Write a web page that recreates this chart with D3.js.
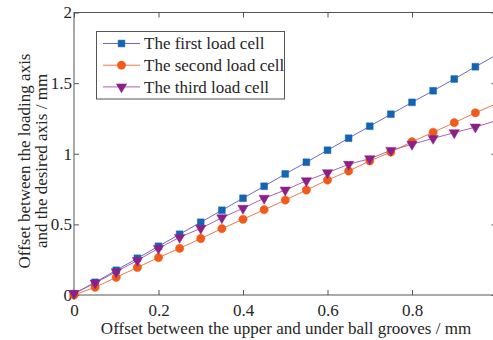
<!DOCTYPE html>
<html><head><meta charset="utf-8">
<script src="https://cdn.jsdelivr.net/npm/d3@7"></script>
<style>body{margin:0;background:#fff}svg{display:block}text{font-family:"Liberation Serif","Times New Roman",serif;fill:#262626}</style>
</head><body><svg id="c" width="493" height="340"></svg>
<script>
const xs = [0,0.05,0.1,0.15,0.2,0.25,0.3,0.35,0.4,0.45,0.5,0.55,0.6,0.65,0.7,0.75,0.8,0.85,0.9,0.95,1.0];
const first = [0.01,0.09,0.175,0.26,0.345,0.43,0.515,0.60,0.685,0.77,0.857,0.94,1.025,1.11,1.195,1.28,1.364,1.446,1.529,1.616,1.70];
const second = [0.0,0.055,0.125,0.195,0.265,0.33,0.40,0.47,0.536,0.604,0.672,0.743,0.814,0.878,0.949,1.012,1.085,1.152,1.22,1.29,1.355];
const third = [0.01,0.085,0.165,0.245,0.33,0.408,0.472,0.547,0.614,0.685,0.743,0.809,0.866,0.925,0.965,1.024,1.067,1.109,1.149,1.189,1.235];
const xTicks = [0,0.2,0.4,0.6,0.8];
const yTicks = [0,0.5,1,1.5,2];
const seriesNames = ["The first load cell","The second load cell","The third load cell"];

const FS = "17px";
const svg = d3.select("#c");
const x = d3.scaleLinear().domain([0,1]).range([74,496.5]);
const y = d3.scaleLinear().domain([0,2]).range([295,12.5]);
const series = [
  {name:seriesNames[0], vals:first, line:"#6a6ac4", fill:"#1464b4", sym:d3.symbolSquare, size:46, rot:0},
  {name:seriesNames[1], vals:second, line:"#f07a4a", fill:"#f05a1a", sym:d3.symbolCircle, size:54, rot:0},
  {name:seriesNames[2], vals:third, line:"#b060b0", fill:"#8a2088", sym:d3.symbolTriangle, size:46, rot:180}
];

const axCol = "#555";
svg.append("rect").attr("x",x(0)).attr("y",y(2)).attr("width",x(1)-x(0)).attr("height",y(0)-y(2))
  .attr("fill","none").attr("stroke",axCol).attr("stroke-width",1);

const gx = svg.append("g").attr("transform",`translate(0,${y(0)})`)
  .call(d3.axisBottom(x).tickValues(xTicks).tickSize(-5).tickPadding(9).tickFormat(d3.format("")));
const gxt = svg.append("g").attr("transform",`translate(0,${y(2)})`)
  .call(d3.axisTop(x).tickValues(xTicks).tickSize(-5).tickFormat(""));
const gy = svg.append("g").attr("transform",`translate(${x(0)},0)`)
  .call(d3.axisLeft(y).tickValues(yTicks).tickSize(-5).tickPadding(4).tickFormat(d3.format("")));
const gyr = svg.append("g").attr("transform",`translate(${x(1)},0)`)
  .call(d3.axisRight(y).tickValues(yTicks).tickSize(-5).tickFormat(""));
[gx,gxt,gy,gyr].forEach(g=>{g.select(".domain").remove();g.selectAll("line").attr("stroke",axCol);
  g.selectAll("text").style("font-size",FS).attr("fill","#262626").style("font-family","Liberation Serif");});
gy.selectAll("text").attr("dx","2");

series.forEach(s=>{
  const pts = xs.map((v,i)=>[v,s.vals[i]]);
  svg.append("path").datum(pts).attr("fill","none").attr("stroke",s.line).attr("stroke-width",1)
    .attr("d",d3.line().x(d=>x(d[0])).y(d=>y(d[1])));
});
series.forEach(s=>{
  // last point (x = 1) lies on the cropped right edge; its marker is not shown in the reference
  const pts = xs.slice(0,-1).map((v,i)=>[v,s.vals[i]]);
  svg.append("g").selectAll("path").data(pts).join("path")
    .attr("d",d3.symbol().type(s.sym).size(s.size))
    .attr("transform",d=>`translate(${x(d[0])},${y(d[1])}) rotate(${s.rot})`)
    .attr("fill",s.fill).attr("stroke",s.fill).attr("stroke-width",0.5);
});

const lg = svg.append("g");
lg.append("rect").attr("x",96.5).attr("y",31.5).attr("width",188).attr("height",67.5)
  .attr("fill","#fff").attr("stroke",axCol).attr("stroke-width",1);
series.forEach((s,i)=>{
  const cy = 43.5 + i*21.7;
  lg.append("line").attr("x1",103).attr("x2",140).attr("y1",cy).attr("y2",cy).attr("stroke",s.line).attr("stroke-width",1);
  lg.append("path").attr("d",d3.symbol().type(s.sym).size(s.size)).attr("transform",`translate(121.5,${cy}) rotate(${s.rot})`)
    .attr("fill",s.fill).attr("stroke",s.fill).attr("stroke-width",0.5);
  lg.append("text").attr("x",144).attr("y",cy).attr("dy","0.35em").style("font-size",FS).text(s.name);
});

svg.append("text").attr("x",286).attr("y",334).attr("text-anchor","middle").style("font-size",FS)
  .text("Offset between the upper and under ball grooves / mm");
const yt = svg.append("text").attr("transform","translate(0,161) rotate(-90)").attr("text-anchor","middle").style("font-size",FS);
yt.append("tspan").attr("x",0).attr("y",30).text("Offset between the loading axis");
yt.append("tspan").attr("x",0).attr("y",47).text("and the desired axis / mm");
</script></body></html>
